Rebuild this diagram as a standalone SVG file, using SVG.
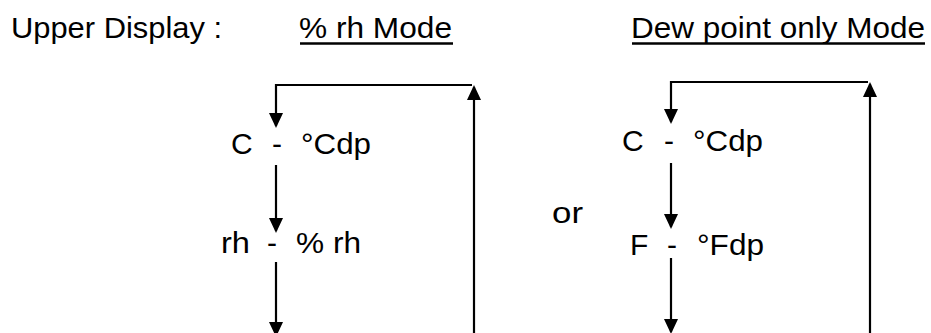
<svg xmlns="http://www.w3.org/2000/svg" width="931" height="333" viewBox="0 0 931 333">
<style>
  text { font-family: "Liberation Sans", Arial, sans-serif; font-size: 30px; fill: #000; }
  .ln { stroke: #000; stroke-width: 2.2; fill: none; }
  .ul { stroke: #000; stroke-width: 2.4; }
</style>
<defs>
  <marker id="ah" markerUnits="userSpaceOnUse" markerWidth="15" markerHeight="15" viewBox="0 0 15 15" refX="13" refY="7.5" orient="auto">
    <path d="M0,0.5 L15,7.5 L0,14.5 z" fill="#000"/>
  </marker>
</defs>
<g id="headers">
  <text x="11" y="38" textLength="211" lengthAdjust="spacingAndGlyphs">Upper Display :</text>
  <text x="299" y="38" textLength="153" lengthAdjust="spacingAndGlyphs">% rh Mode</text>
  <line class="ul" x1="300" y1="43.5" x2="453" y2="43.5"/>
  <text x="631" y="38" textLength="294" lengthAdjust="spacingAndGlyphs">Dew point only Mode</text>
  <line class="ul" x1="632" y1="43.5" x2="925" y2="43.5"/>
  <text x="552" y="223" textLength="31" lengthAdjust="spacingAndGlyphs">or</text>
</g>
<g id="node-left-c">
  <text x="231" y="154">C</text>
  <text x="272" y="154">-</text>
  <text x="301" y="154" textLength="70" lengthAdjust="spacingAndGlyphs">°Cdp</text>
</g>
<g id="node-left-rh">
  <text x="221" y="253" textLength="29" lengthAdjust="spacingAndGlyphs">rh</text>
  <text x="267" y="253">-</text>
  <text x="296" y="253" textLength="65" lengthAdjust="spacingAndGlyphs">% rh</text>
</g>
<g id="node-right-c">
  <text x="622" y="151">C</text>
  <text x="664" y="151">-</text>
  <text x="693" y="151" textLength="70" lengthAdjust="spacingAndGlyphs">°Cdp</text>
</g>
<g id="node-right-f">
  <text x="630" y="255">F</text>
  <text x="667" y="255">-</text>
  <text x="697" y="255" textLength="67" lengthAdjust="spacingAndGlyphs">°Fdp</text>
</g>
<g id="connectors">
  <!-- left loop -->
  <line class="ln" x1="474" y1="340" x2="474" y2="87" marker-end="url(#ah)"/>
  <path class="ln" d="M472,85 H276 V126" marker-end="url(#ah)"/>
  <line class="ln" x1="276" y1="165" x2="276" y2="231" marker-end="url(#ah)"/>
  <line class="ln" x1="276" y1="262" x2="276" y2="335" marker-end="url(#ah)"/>
  <!-- right loop -->
  <line class="ln" x1="870" y1="340" x2="870" y2="84" marker-end="url(#ah)"/>
  <path class="ln" d="M868,82 H671 V122" marker-end="url(#ah)"/>
  <line class="ln" x1="671" y1="163" x2="671" y2="227" marker-end="url(#ah)"/>
  <line class="ln" x1="671" y1="258" x2="671" y2="332" marker-end="url(#ah)"/>
</g>
</svg>
